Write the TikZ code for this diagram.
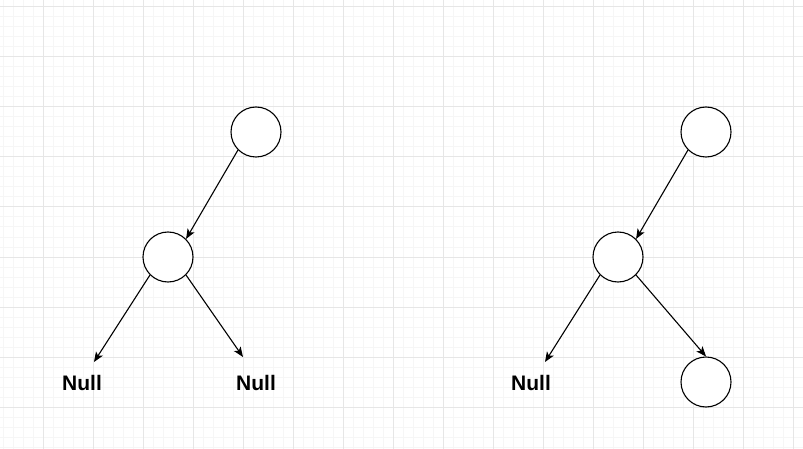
\documentclass[tikz,border=0pt]{standalone}
\usepackage{fontspec}
\setmainfont{Liberation Sans}
\usetikzlibrary{arrows.meta}
\definecolor{gridminor}{RGB}{246,246,246}
\definecolor{gridmajor}{RGB}{230,230,230}
\tikzset{
  treenode/.style={circle,draw=black,line width=1.1pt,fill=white,minimum size=50pt,inner sep=0pt},
  nulltext/.style={font=\fontsize{21pt}{23pt}\selectfont\bfseries,inner sep=0pt},
  link/.style={line width=1.1pt,-{Stealth[length=10pt,width=8pt,inset=2.5pt]}},
  minorline/.style={gridminor,line width=1pt},
  majorline/.style={gridmajor,line width=1pt}
}
\begin{document}
\begin{tikzpicture}[x=1pt,y=-1pt]
\useasboundingbox[fill=white] (0,0) rectangle (803,449);
% grid
\foreach \x in {3,13,...,803} \draw[minorline] (\x,0) -- (\x,449);
\foreach \y in {7,17,...,449} \draw[minorline] (0,\y) -- (803,\y);
\foreach \x in {43,93,...,803} \draw[majorline] (\x,0) -- (\x,449);
\foreach \y in {7,57,...,449} \draw[majorline] (0,\y) -- (803,\y);
% left tree
\node[treenode] (r1) at (256,132) {};
\node[treenode] (m1) at (168,257) {};
\node[nulltext] (n1) at (82,383) {Null};
\node[nulltext] (n2) at (256,383) {Null};
\coordinate (t1) at (94,362);
\coordinate (t2) at (243,357);
\draw[link] (r1.south west) -- (m1.north east);
\draw[link] (m1.south west) -- (t1);
\draw[link] (m1.south east) -- (t2);
% right tree
\node[treenode] (r2) at (706,132) {};
\node[treenode] (m2) at (618,257) {};
\node[nulltext] (n3) at (531,383) {Null};
\node[treenode] (c2) at (706,382) {};
\coordinate (t3) at (545,362);
\draw[link] (r2.south west) -- (m2.north east);
\draw[link] (m2.south west) -- (t3);
\draw[link] (m2.south east) -- (c2.north);
\end{tikzpicture}
\end{document}
